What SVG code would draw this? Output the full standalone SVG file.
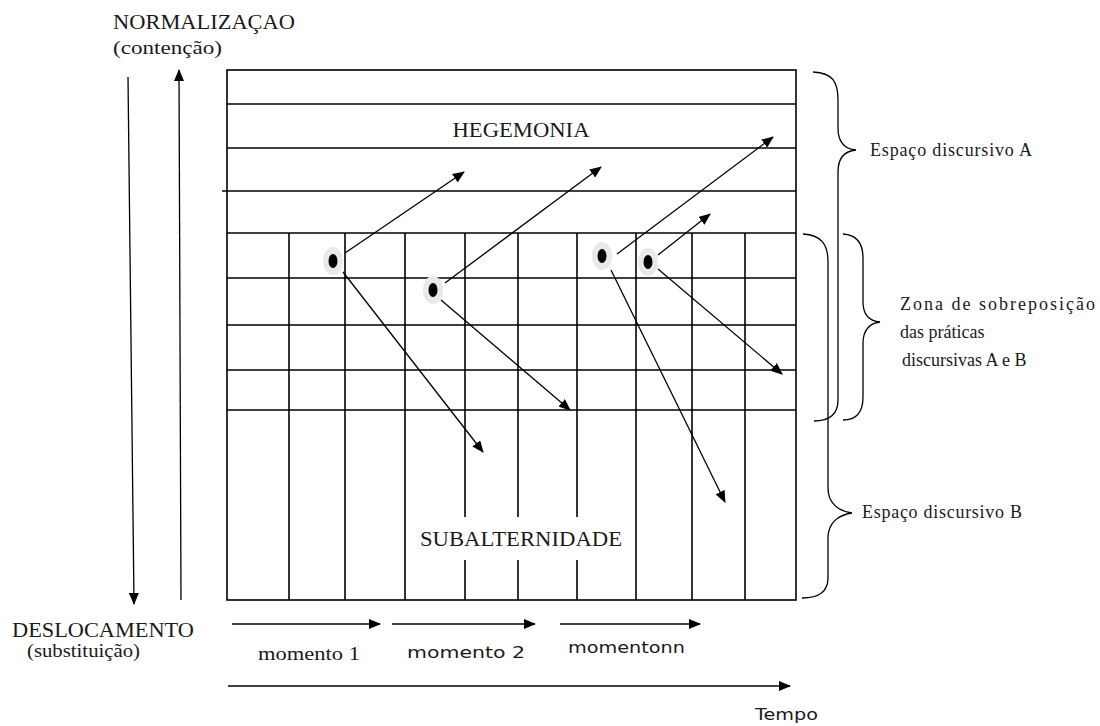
<svg xmlns="http://www.w3.org/2000/svg" width="1100" height="726" viewBox="0 0 1100 726">
<style>
.g{stroke:#000;stroke-width:1.6;fill:none}
.a{stroke:#000;stroke-width:1.3;fill:none;marker-end:url(#ah)}
.br{stroke:#000;stroke-width:1.3;fill:none}
.serif{font-family:"Liberation Serif","Times New Roman",serif;fill:#1a1a1a}
.sans{font-family:"DejaVu Sans","Liberation Sans",sans-serif;fill:#1a1a1a}
.halo{fill:#e9e9e9}
.dot{fill:#000}
</style>
<defs>
<marker id="ah" viewBox="0 0 12 10" refX="11" refY="5" markerWidth="12" markerHeight="10" markerUnits="userSpaceOnUse" orient="auto">
<path d="M0,0 L12,5 L0,10 Z" fill="#000"/>
</marker>
</defs>
<rect width="1100" height="726" fill="#fff"/>
<g id="grid">
<rect class="g" x="227" y="70" width="569" height="530"/>
<line class="g" x1="227" y1="104" x2="796" y2="104"/>
<line class="g" x1="227" y1="148" x2="796" y2="148"/>
<line class="g" x1="222" y1="191" x2="796" y2="191"/>
<line class="g" x1="227" y1="233" x2="796" y2="233"/>
<line class="g" x1="227" y1="278" x2="796" y2="278"/>
<line class="g" x1="227" y1="325" x2="796" y2="325"/>
<line class="g" x1="227" y1="370" x2="796" y2="370"/>
<line class="g" x1="227" y1="410" x2="796" y2="410"/>
<line class="g" x1="289" y1="233" x2="289" y2="600"/>
<line class="g" x1="345" y1="233" x2="345" y2="600"/>
<line class="g" x1="405" y1="233" x2="405" y2="600"/>
<line class="g" x1="465" y1="233" x2="465" y2="517"/>
<line class="g" x1="465" y1="560" x2="465" y2="600"/>
<line class="g" x1="518" y1="233" x2="518" y2="517"/>
<line class="g" x1="518" y1="560" x2="518" y2="600"/>
<line class="g" x1="577" y1="233" x2="577" y2="517"/>
<line class="g" x1="577" y1="560" x2="577" y2="600"/>
<line class="g" x1="636" y1="233" x2="636" y2="600"/>
<line class="g" x1="692" y1="233" x2="692" y2="600"/>
<line class="g" x1="745" y1="233" x2="745" y2="600"/>
</g>
<g id="labels-grid">
<text class="serif" x="521" y="137" font-size="21" text-anchor="middle" textLength="137" lengthAdjust="spacingAndGlyphs">HEGEMONIA</text>
<text class="serif" x="521" y="546" font-size="21" text-anchor="middle" textLength="202" lengthAdjust="spacingAndGlyphs">SUBALTERNIDADE</text>
</g>
<g id="dots">
<ellipse class="halo" cx="333" cy="261" rx="10" ry="14"/>
<ellipse class="dot" cx="333" cy="261" rx="4.5" ry="7"/>
<ellipse class="halo" cx="433" cy="290" rx="10" ry="14"/>
<ellipse class="dot" cx="433" cy="290" rx="4.5" ry="7"/>
<ellipse class="halo" cx="602" cy="256" rx="10" ry="14"/>
<ellipse class="dot" cx="602" cy="256" rx="4.5" ry="7"/>
<ellipse class="halo" cx="648" cy="262" rx="10" ry="14"/>
<ellipse class="dot" cx="648" cy="262" rx="4.5" ry="7"/>
</g>
<g id="connectors">
<line class="a" x1="345" y1="253" x2="464" y2="172"/>
<line class="a" x1="343" y1="272" x2="483" y2="452"/>
<line class="a" x1="445" y1="283" x2="601" y2="167"/>
<line class="a" x1="441" y1="300" x2="570" y2="410"/>
<line class="a" x1="617" y1="254" x2="773" y2="137"/>
<line class="a" x1="611" y1="270" x2="725" y2="502"/>
<line class="a" x1="658" y1="255" x2="710" y2="214"/>
<line class="a" x1="658" y1="269" x2="782" y2="374"/>
<line class="a" x1="128" y1="77" x2="134" y2="604"/>
<line class="a" x1="181" y1="600" x2="179" y2="70"/>
<line class="a" x1="232" y1="624" x2="380" y2="624"/>
<line class="a" x1="392" y1="624" x2="535" y2="624"/>
<line class="a" x1="560" y1="624" x2="700" y2="624"/>
<line class="a" x1="228" y1="686" x2="790" y2="686"/>
</g>
<g id="braces">
<path class="br" d="M813,72 C833,73 838,82 838,100 L838,128 C838,142 845,149 856,150 C845,151 838,158 838,172 L838,400 C838,414 830,421 814,421"/>
<path class="br" d="M843,234 C857,235 863,243 863,258 L863,302 C863,315 870,321 880,322 C870,323 863,330 863,343 L863,397 C863,412 857,420 843,420"/>
<path class="br" d="M803,234 C821,235 828,244 828,262 L828,488 C828,503 838,511 852,513 C838,515 828,523 828,538 L828,578 C828,592 818,598 802,598"/>
</g>
<g id="labels-left">
<text class="serif" x="113" y="29" font-size="21" textLength="182" lengthAdjust="spacingAndGlyphs">NORMALIZAÇAO</text>
<text class="serif" x="113" y="54" font-size="18" textLength="109" lengthAdjust="spacingAndGlyphs">(contenção)</text>
<text class="serif" x="12" y="637" font-size="21" textLength="182" lengthAdjust="spacingAndGlyphs">DESLOCAMENTO</text>
<text class="serif" x="27" y="657" font-size="18" textLength="113" lengthAdjust="spacingAndGlyphs">(substituição)</text>
</g>
<g id="labels-right">
<text class="serif" x="870" y="156" font-size="18" textLength="162" lengthAdjust="spacing">Espaço discursivo A</text>
<text class="serif" x="900" y="310" font-size="18" textLength="195" lengthAdjust="spacing">Zona de sobreposição</text>
<text class="serif" x="900" y="338" font-size="18">das práticas</text>
<text class="serif" x="902" y="366" font-size="18">discursivas A e B</text>
<text class="serif" x="862" y="518" font-size="18" textLength="160" lengthAdjust="spacing">Espaço discursivo B</text>
</g>
<g id="labels-bottom">
<text class="serif" x="258" y="660" font-size="18" textLength="102" lengthAdjust="spacingAndGlyphs">momento 1</text>
<text class="sans" x="407" y="658" font-size="15" textLength="118" lengthAdjust="spacingAndGlyphs">momento 2</text>
<text class="sans" x="568" y="653" font-size="15" textLength="117" lengthAdjust="spacingAndGlyphs">momentonn</text>
<text class="sans" x="755" y="720" font-size="15" textLength="63" lengthAdjust="spacingAndGlyphs">Tempo</text>
</g>
</svg>
